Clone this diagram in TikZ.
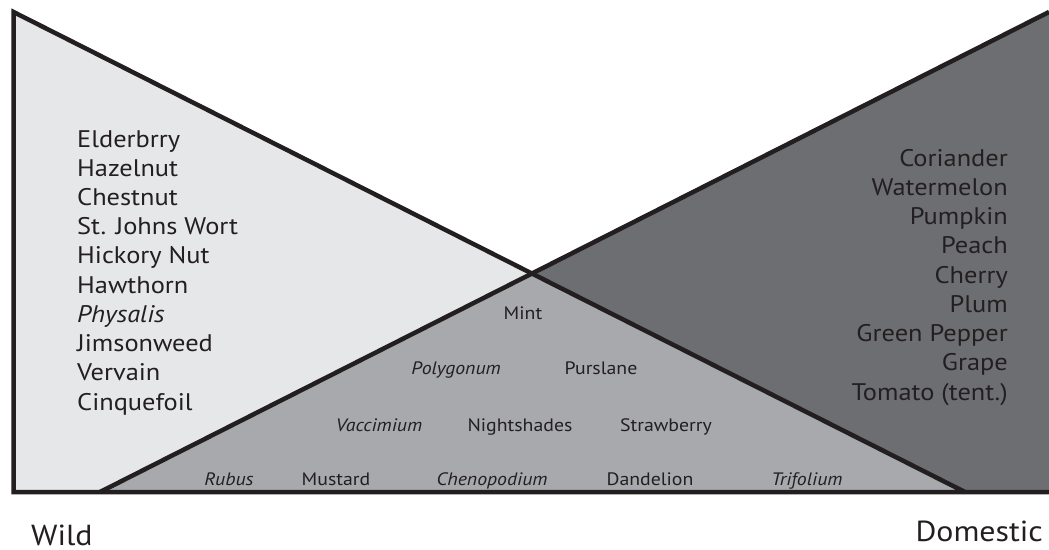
\documentclass[tikz,border=0pt]{standalone}
\usepackage{fontspec}
\setmainfont{PT Sans}[FakeStretch=1.1]
\definecolor{lightfill}{HTML}{E6E7E8}
\definecolor{midfill}{HTML}{A7A9AC}
\definecolor{darkfill}{HTML}{6D6E71}
\definecolor{ink}{HTML}{231F20}
\tikzset{
  edge/.style={draw=ink, line width=4.5bp, line join=miter},
  listtext/.style={font=\fontsize{24bp}{29.2bp}\selectfont, text=ink, inner sep=0pt},
  midtext/.style={font=\fontsize{18bp}{20bp}\selectfont, text=ink, inner sep=0pt, anchor=base},
  endtext/.style={font=\fontsize{29bp}{34bp}\selectfont, text=ink, inner sep=0pt},
}
\begin{document}
\begin{tikzpicture}[x=1bp,y=-1bp]
\useasboundingbox (0,0) rectangle (1049,550);
\fill[white] (0,0) rectangle (1049,550);
% key points
\coordinate (TL) at (13.5,12);
\coordinate (BL) at (13.5,492);
\coordinate (BR) at (1049,492);
\coordinate (TR) at (1049,12);
\coordinate (A) at (100,492);
\coordinate (B) at (965,492);
\coordinate (X) at (intersection of TL--B and A--TR);
% fills
\fill[lightfill] (TL) -- (X) -- (A) -- (BL) -- cycle;
\fill[midfill] (A) -- (X) -- (B) -- cycle;
\fill[darkfill] (X) -- (TR) -- (BR) -- (B) -- cycle;
% lines
\draw[edge] (B) -- (TL) -- (BL) -- (BR);
\draw[edge] (A) -- (TR);
% left list (anchored at the baseline of its last line)
\node[listtext, anchor=base west, align=left] (wildlist) at (77,410)
  {Elderbrry\\Hazelnut\\Chestnut\\St. Johns Wort\\Hickory Nut\\Hawthorn\\\textit{Physalis}\\Jimsonweed\\Vervain\\Cinquefoil};
% right list
\node[listtext, anchor=base east, align=right] (domlist) at (1008,400)
  {Coriander\\Watermelon\\Pumpkin\\Peach\\Cherry\\Plum\\Green Pepper\\Grape\\Tomato (tent.)};
% middle labels
\node[midtext] (mint) at (523,320) {Mint};
\node[midtext] (polygonum) at (456,375) {\textit{Polygonum}};
\node[midtext] (purslane) at (601,375) {Purslane};
\node[midtext] (vaccimium) at (379,431) {\textit{Vaccimium}};
\node[midtext] (nightshades) at (520,431) {Nightshades};
\node[midtext] (strawberry) at (666,431) {Strawberry};
\node[midtext] (rubus) at (229,485) {\textit{Rubus}};
\node[midtext] (mustard) at (336,485) {Mustard};
\node[midtext] (chenopodium) at (492,485) {\textit{Chenopodium}};
\node[midtext] (dandelion) at (650,485) {Dandelion};
\node[midtext] (trifolium) at (807,485) {\textit{Trifolium}};
% axis ends
\node[endtext, anchor=base west] (wild) at (31,545) {Wild};
\node[endtext, anchor=base east] (domestic) at (1043,541) {Domestic};
\end{tikzpicture}
\end{document}
